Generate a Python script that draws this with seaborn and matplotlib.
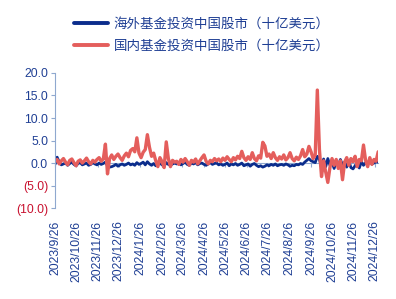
import matplotlib
matplotlib.use("Agg")
import matplotlib.pyplot as plt
import matplotlib.ticker as mticker
import seaborn as sns
import pandas as pd
import numpy as np
from matplotlib.lines import Line2D

# ---------------- data ----------------
start_date = "2023-09-26"
n_points = 155  # every 3 calendar days through 2024-12-31

foreign_name = "海外基金投资中国股市（十亿美元）"
domestic_name = "国内基金投资中国股市（十亿美元）"

foreign_vals = [
    -0.3, 1.3, 0.2, -0.4, -0.2, 0.0, -0.5, -0.1, 0.2, -0.3, -0.6, -0.1, 0.1, -0.4, -0.2, 0.0,
    -0.5, -0.3, 0.1, -0.2, -0.4, 0.0, -0.3, -0.1,
    0.2, -0.6, -0.9, -0.8, -0.6, -0.3, -0.7, -0.4, -0.2, -0.5, -0.3, 0.0, -0.4, -0.2, -0.5, 0.1,
    -0.3, -0.1, 0.2, -0.4, 0.3, -0.2, -0.5, -0.1, -0.6, -0.3, 0.0, -0.4, -0.7, 0.1, -0.3, -0.5,
    -0.2, 0.0,
    -0.2, 0.1, -0.4, -0.1, 0.2, -0.3, -0.5, 0.0, -0.2, 0.1, -0.4, -0.1, 0.0, -0.3, -0.5, -0.2,
    0.1, -0.3, -0.1, 0.0, -0.4, -0.2, -0.5, -0.3, 0.0, -0.6, -0.2, -0.4, -0.1, -0.5, -0.3, 0.0,
    -0.6, -0.4, -0.2, -0.7, -0.3, -0.1, -0.5, -0.8, -0.6, -0.9, -0.7, -0.4, -0.6, -0.3, -0.5, -0.2,
    -0.6, -0.4, -0.3, -0.5, -0.2, -0.4, -0.7, -0.5, -0.6, -0.3, -0.4, -0.1, -0.3, 0.2, 0.6, 1.0,
    0.5, 0.3, 0.1,
    1.5, 0.8, -1.0, 0.9, -0.8, 1.0, -0.5, 0.6, -1.2, 0.3, -0.6, 0.8, -0.4, 0.2, -0.9, 0.5,
    -1.0, -1.3, -0.6, -0.2, -1.1, 0.3, -0.5, 0.1, -0.3, 0.4, -0.2, 0.0, 0.3, 0.2,
]

domestic_vals = [
    0.3, 0.8, -0.2, 0.5, 1.0, 0.2, -0.4, 0.6, 0.9, 0.1, -0.6, 0.4, 0.7, 0.0, 0.5, 1.1,
    0.3, -0.2, 0.6, 0.2, 0.8, 1.2, 0.4, 0.9,
    4.2, -2.4, 1.0, 1.8, 0.8, 1.5, 2.0, 1.2, 0.6, 1.6, 2.2, 1.4, 2.8, 3.2, 2.5, 5.6,
    2.2, 1.2, 2.4, 3.0, 6.3, 3.5, 1.5, 2.2, 0.5, -0.8, 1.2, 0.3, -1.0, 4.7, 1.0, -0.8,
    0.6, 0.2,
    0.4, -0.3, 0.8, 0.2, 1.0, 0.3, -0.5, 0.6, 0.2, 0.9, -0.2, 0.5, 1.2, 1.8, 0.4, -0.2,
    0.6, 0.3, 1.0, 0.5, 0.9, 0.3, 1.1, 0.6, 1.4, 0.8, 0.3, 1.2, 0.7, 1.5, 1.0, 2.6,
    1.2, 0.6, 1.4, 0.8, 2.3, 1.0, 0.5, 1.6, 1.1, 4.6, 3.8, 1.5, 2.0, 1.0, 2.3, 1.2,
    0.6, 1.4, 0.9, 1.8, 0.7, 1.2, 2.3, 1.0, 0.5, 1.3, 0.8, 1.6, 3.0, 1.4, 2.0, 3.7,
    2.5, 1.0, 1.8,
    16.2, 3.0, -3.0, 0.5, -2.0, -4.3, -1.0, 1.0, -0.5, 0.8, -1.2, 0.5, -3.7, 0.2, 1.2, -0.5,
    1.0, 0.3, 1.5, -0.8, 0.8, 0.5, 4.0, 0.6, -0.8, 1.2, -0.3, 0.8, 0.4, 2.5,
]

tick_dates = ["2023-09-26", "2023-10-26", "2023-11-26", "2023-12-26", "2024-01-26",
              "2024-02-26", "2024-03-26", "2024-04-26", "2024-05-26", "2024-06-26",
              "2024-07-26", "2024-08-26", "2024-09-26", "2024-10-26", "2024-11-26",
              "2024-12-26"]
tick_labels = ["2023/9/26", "2023/10/26", "2023/11/26", "2023/12/26", "2024/1/26",
               "2024/2/26", "2024/3/26", "2024/4/26", "2024/5/26", "2024/6/26",
               "2024/7/26", "2024/8/26", "2024/9/26", "2024/10/26", "2024/11/26",
               "2024/12/26"]
y_ticks = [-10, -5, 0, 5, 10, 15, 20]

# ---------------- style ----------------
sns.set_style("white")
plt.rcParams["font.family"] = ["Liberation Sans", "Noto Sans CJK SC", "DejaVu Sans"]

BLUE = "#0B2D8C"
RED = "#E45E5C"
TXT_BLUE = "#1F3F94"
TXT_RED = "#C8102E"
AXIS_COL = "#8FA8CF"

dates = pd.date_range(start_date, periods=n_points, freq="3D")
df = pd.DataFrame({
    "date": np.concatenate([dates, dates]),
    "value": foreign_vals + domestic_vals,
    "series": [foreign_name] * n_points + [domestic_name] * n_points,
})

fig = plt.figure(figsize=(3.96, 2.99), dpi=100)
ax = fig.add_axes([0.139, 0.304, 0.816, 0.452])

sns.lineplot(data=df, x="date", y="value", hue="series",
             palette={foreign_name: BLUE, domestic_name: RED},
             ax=ax, legend=False, estimator=None, sort=True)
lines = ax.get_lines()
lines[0].set_linewidth(2.0)
lines[1].set_linewidth(2.4)

ax.set_xlim(dates[0], dates[-1])
ax.set_ylim(-10, 20)
ax.set_xlabel("")
ax.set_ylabel("")

# y axis
ax.set_yticks(y_ticks)
ax.yaxis.set_major_formatter(mticker.FuncFormatter(
    lambda v, p: f"{v:.1f}" if v >= 0 else f"({abs(v):.1f})"))
ax.tick_params(axis="y", direction="out", length=3, width=0.8, color=AXIS_COL,
               labelsize=8.7, pad=2, left=True)
for lab, v in zip(ax.get_yticklabels(), y_ticks):
    lab.set_color(TXT_RED if v < 0 else TXT_BLUE)

# x axis labels at the bottom
ax.set_xticks(pd.to_datetime(tick_dates))
ax.set_xticklabels(tick_labels, rotation=90, color=TXT_BLUE, fontsize=8.7)
ax.tick_params(axis="x", length=0, pad=9)

for s in ["top", "right", "bottom"]:
    ax.spines[s].set_visible(False)
ax.spines["left"].set_color(AXIS_COL)
ax.spines["left"].set_linewidth(0.8)

# zero-line axis with month tick marks
sec = ax.secondary_xaxis(1 / 3)
sec.set_xticks(pd.to_datetime(tick_dates))
sec.tick_params(axis="x", direction="out", length=3, width=0.8, color=AXIS_COL,
                labelbottom=False, labeltop=False)
sec.spines["bottom"].set_color(AXIS_COL)
sec.spines["bottom"].set_linewidth(0.8)
for s in ["top", "left", "right"]:
    if s in sec.spines:
        sec.spines[s].set_visible(False)
ax.set_zorder(sec.get_zorder() + 1)
ax.patch.set_visible(False)

# legend
handles = [Line2D([0], [0], color=BLUE, lw=2.8), Line2D([0], [0], color=RED, lw=2.8)]
leg = fig.legend(handles, [foreign_name, domestic_name], loc="upper center",
                 bbox_to_anchor=(0.51, 0.957), frameon=False, fontsize=9.7,
                 handlelength=2.5, handletextpad=0.4, labelspacing=0.65,
                 borderaxespad=0)
for t in leg.get_texts():
    t.set_color(TXT_BLUE)

fig.savefig("out.png", dpi=100)
